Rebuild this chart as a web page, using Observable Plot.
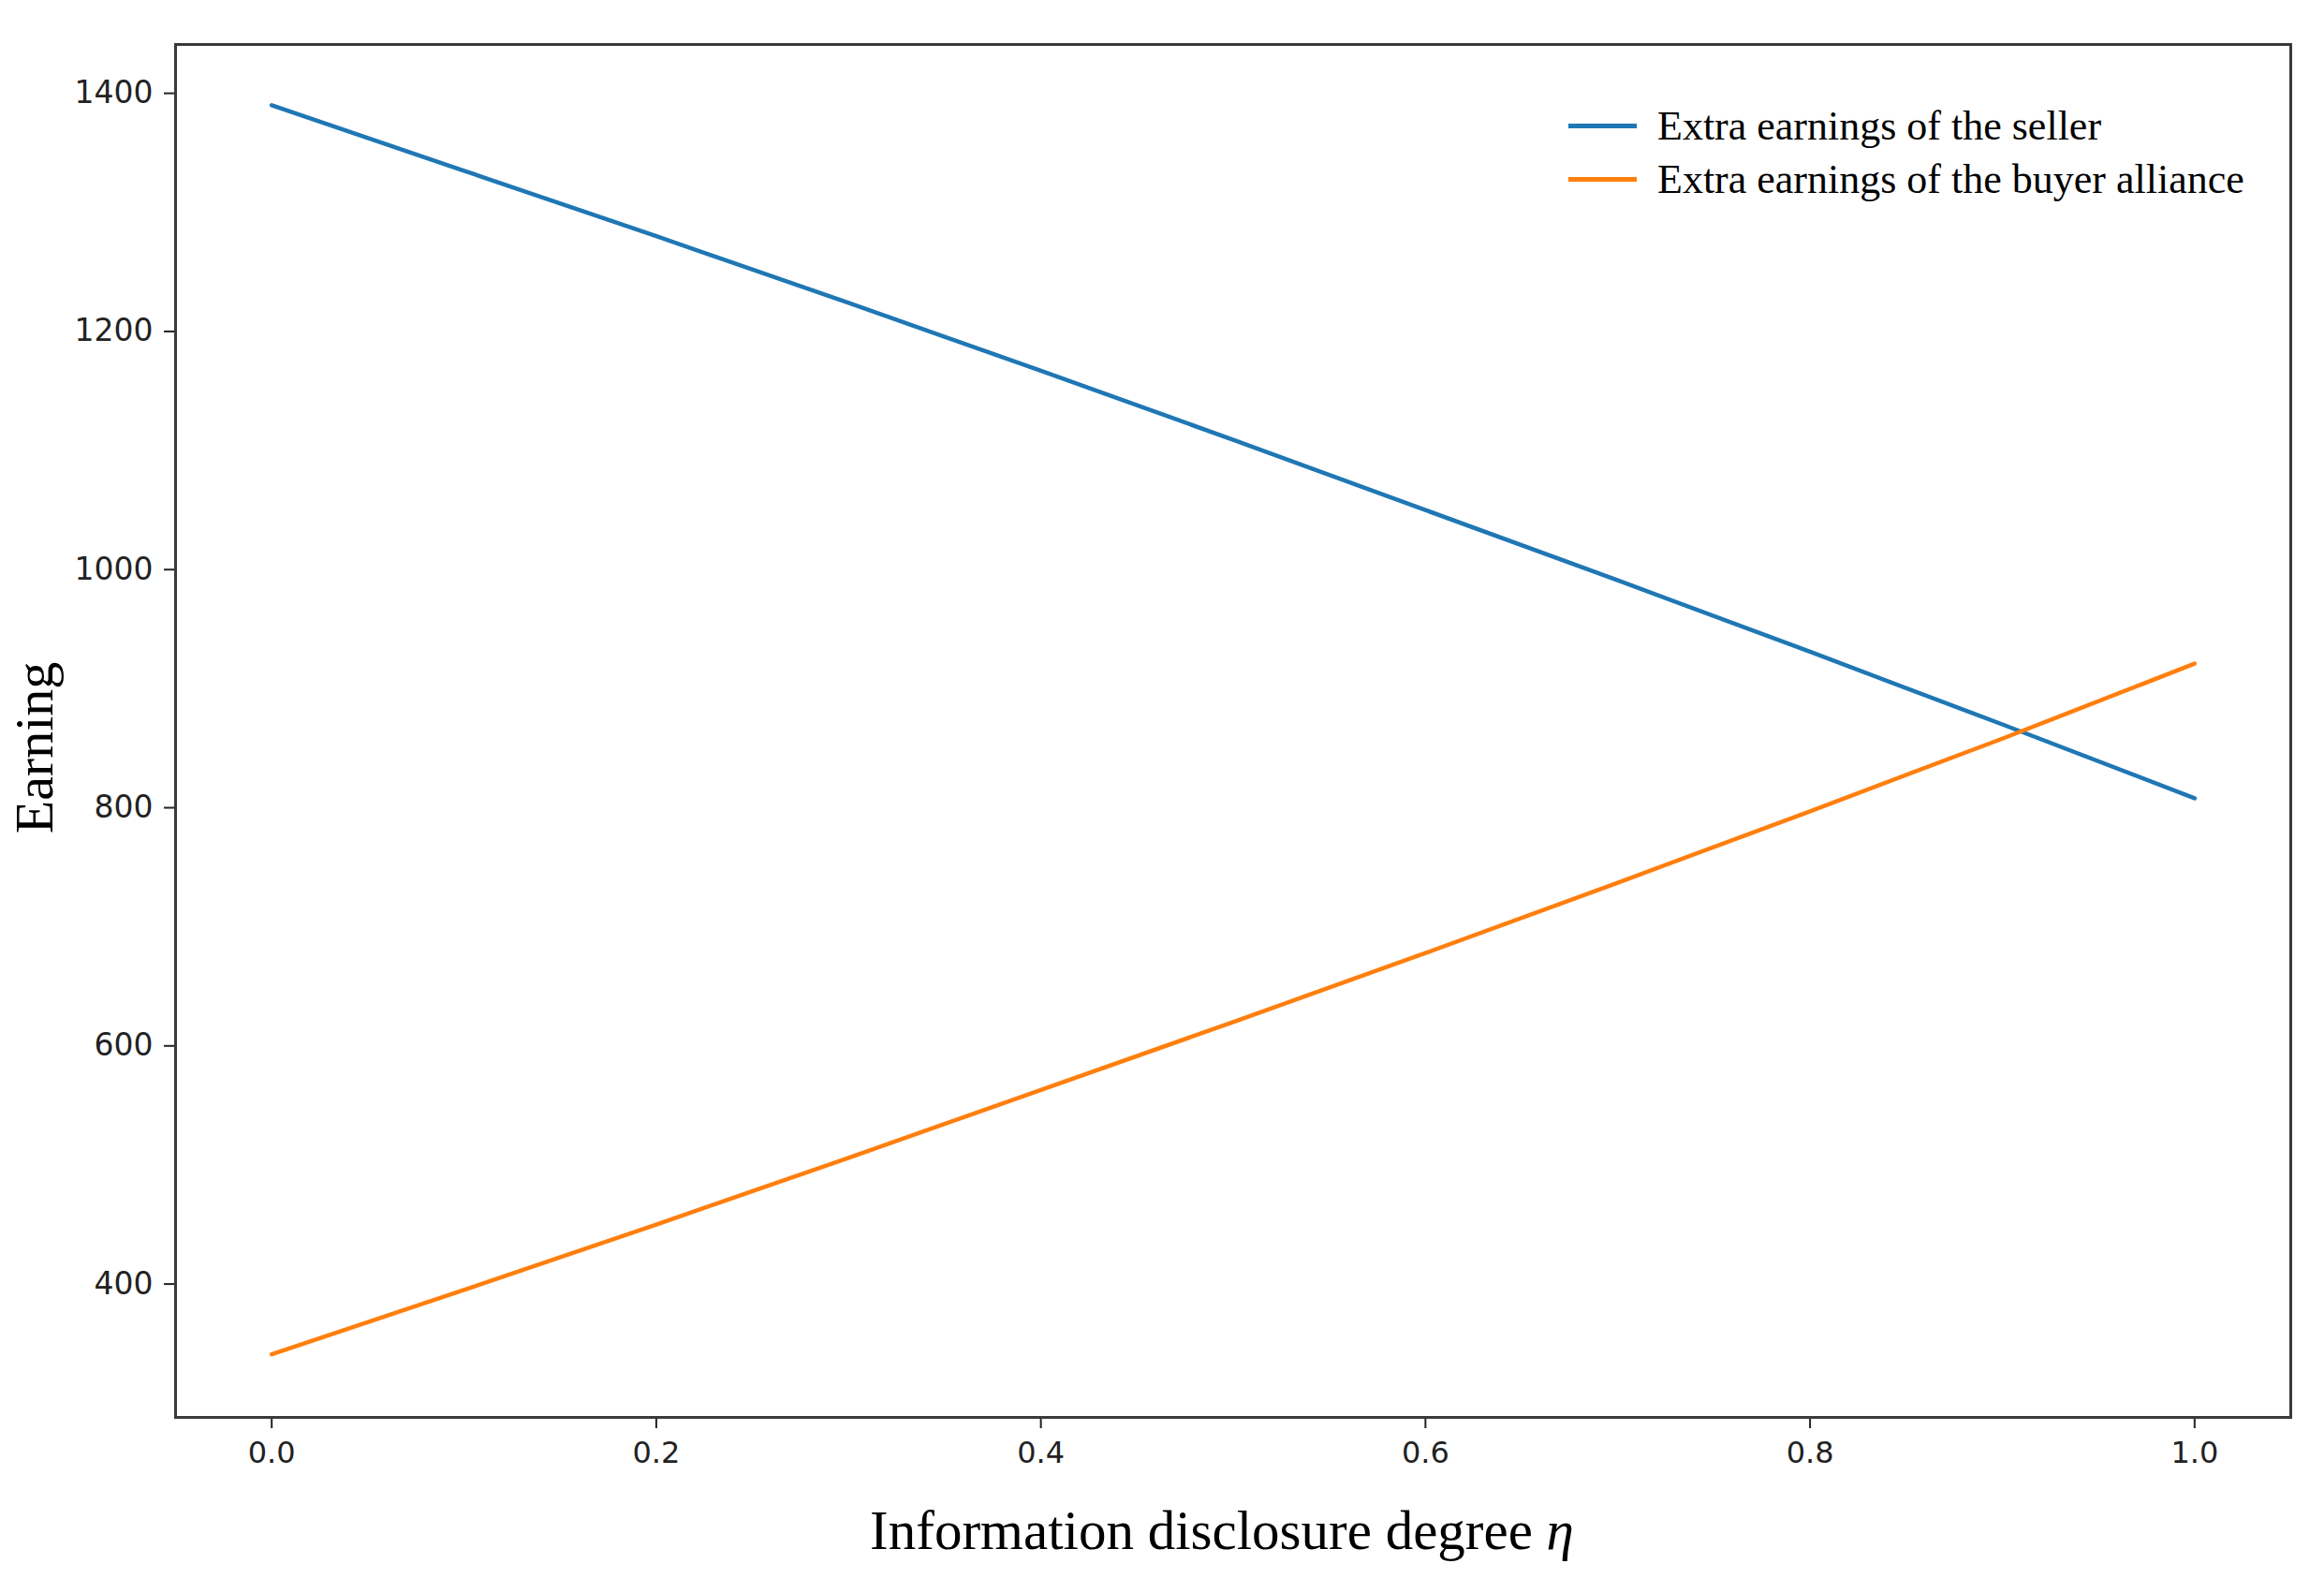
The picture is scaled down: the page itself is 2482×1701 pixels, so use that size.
<!DOCTYPE html>
<html><head><meta charset="utf-8">
<script src="https://cdn.jsdelivr.net/npm/d3@7"></script>
<script src="https://cdn.jsdelivr.net/npm/@observablehq/plot@0.6"></script>
<style>
html,body{margin:0;padding:0;background:#fff;}
#wrap{position:relative;width:2482px;height:1701px;}
#legend{position:absolute;left:1675px;top:106px;font-family:"Liberation Serif","Times New Roman",serif;font-size:44px;color:#000;}
.row{display:flex;align-items:center;height:57px;white-space:nowrap;}
.sw{width:73px;height:0;border-top:5.5px solid;margin-right:22px;}
</style></head><body><div id="wrap"><div id="legend"></div></div>
<script>
// ---- data ----
const eta = [0, 0.1, 0.2, 0.3, 0.4, 0.5, 0.6, 0.7, 0.8, 0.9, 1.0];
const seller = [1390, 1335, 1280, 1224, 1167, 1109, 1050, 991, 931, 870, 808];
const buyer = [341, 395, 450, 506, 563, 620, 678, 737, 797, 858, 921];
const seriesNames = ["Extra earnings of the seller", "Extra earnings of the buyer alliance"];
const seriesColors = ["#1f77b4", "#ff7f0e"];
const xTicks = [0, 0.2, 0.4, 0.6, 0.8, 1.0];
const yTicks = [400, 600, 800, 1000, 1200, 1400];
const xTitle = "Information disclosure degree ";
const xTitleSymbol = "η";
const yTitle = "Earning";

const rows = eta.map((e, i) => ({eta: e, seller: seller[i], buyer: buyer[i]}));

const plot = Plot.plot({
  width: 2482, height: 1701,
  marginLeft: 187, marginRight: 36, marginTop: 47, marginBottom: 188,
  x: {domain: [-0.05, 1.05]},
  y: {domain: [288, 1441]},
  style: {fontFamily: "DejaVu Sans", fontSize: "32px", color: "#222", background: "#fff", overflow: "visible"},
  marks: [
    Plot.axisX(xTicks, {tickSize: 12, tickPadding: 14, tickFormat: d => d.toFixed(1), fontSize: 32, label: null, strokeWidth: 2}),
    Plot.axisY(yTicks, {tickSize: 12, tickPadding: 12, tickFormat: d => String(d), fontSize: 33, label: null, strokeWidth: 2}),
    Plot.line(rows, {x: "eta", y: "seller", stroke: seriesColors[0], strokeWidth: 4.5}),
    Plot.line(rows, {x: "eta", y: "buyer", stroke: seriesColors[1], strokeWidth: 4.5}),
    Plot.frame({stroke: "#3a3a3a", strokeWidth: 3}),
    Plot.text([xTitle], {text: d => d, frameAnchor: "bottom", textAnchor: "middle", lineAnchor: "bottom", dx: -12, dy: 140, fontSize: 59, fontFamily: "Liberation Serif", fill: "#000", className: "xtitle"}),
    Plot.text([yTitle], {text: d => d, frameAnchor: "left", textAnchor: "middle", lineAnchor: "bottom", rotate: -90, dx: -132, dy: 18, fontSize: 58, fontFamily: "Liberation Serif", fill: "#000"})
  ]
});

// italic eta in x title
d3.select(plot).selectAll(".xtitle text").each(function() {
  const t = d3.select(this);
  const base = t.text();
  t.text(null);
  t.append("tspan").text(base);
  t.append("tspan").attr("font-style", "italic").text(xTitleSymbol);
});

document.getElementById("wrap").prepend(plot);

const legend = d3.select("#legend");
seriesNames.forEach((name, i) => {
  const r = legend.append("div").attr("class", "row");
  r.append("div").attr("class", "sw").style("border-top-color", seriesColors[i]);
  r.append("span").text(name);
});
</script></body></html>
